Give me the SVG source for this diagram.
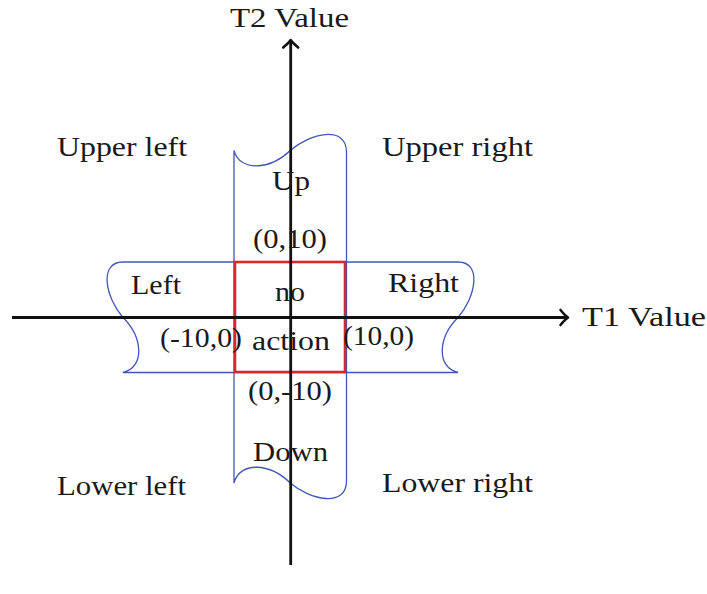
<svg xmlns="http://www.w3.org/2000/svg" width="707" height="594" viewBox="0 0 707 594">
<style>
  .band { fill: none; stroke: #4256b6; stroke-width: 1.3; }
  .box { fill: none; stroke: #d8282c; stroke-width: 2.6; }
  .axis { fill: none; stroke: #111; stroke-width: 2.8; }
  text { font-family: "Liberation Serif", "Times New Roman", serif; font-size: 27px; fill: #1a1a1a; }
</style>
<defs>
  <marker id="arr" markerUnits="userSpaceOnUse" viewBox="-10 -10 14 20" refX="0" refY="0" markerWidth="14" markerHeight="20" orient="auto" overflow="visible">
    <path d="M-7.5,-7.5 Q-3,-2 0,0 Q-3,2 -7.5,7.5" fill="none" stroke="#111" stroke-width="2.6" stroke-linecap="round" stroke-linejoin="round"/>
  </marker>
</defs>
<rect x="0" y="0" width="707" height="594" fill="#ffffff"/>
<g id="band-vertical">
  <path class="band" d="M234,150.5 C240,172 270,170 290.25,150.5 C310,133 346.5,125 346.5,152 L346.5,481 C346.5,508 310,500 290.25,483 C270,463 240,461 234,483 Z"/>
</g>
<g id="band-horizontal">
  <path class="band" d="M123,262 L458,262 C483,262 475,298.5 458,317.5 C438,337.5 436,367 458,372.5 L123,372.5 C145,367 143,337.5 123,317.5 C106,298.5 98,262 123,262 Z"/>
</g>
<g id="no-action-box">
  <rect class="box" x="235" y="262" width="110" height="110"/>
</g>
<g id="connectors">
  <line class="axis" x1="12" y1="317.5" x2="568" y2="317.5" marker-end="url(#arr)"/>
  <line class="axis" x1="290.7" y1="565" x2="290.7" y2="40" marker-end="url(#arr)"/>
</g>
<g id="labels">
  <text x="230" y="27" textLength="119" lengthAdjust="spacingAndGlyphs">T2 Value</text>
  <text x="582" y="326" textLength="124" lengthAdjust="spacingAndGlyphs">T1 Value</text>
  <text x="57" y="156" textLength="130" lengthAdjust="spacingAndGlyphs">Upper left</text>
  <text x="382" y="156" textLength="151" lengthAdjust="spacingAndGlyphs">Upper right</text>
  <text x="272" y="190" textLength="38" lengthAdjust="spacingAndGlyphs">Up</text>
  <text x="253" y="248" textLength="74" lengthAdjust="spacingAndGlyphs">(0,10)</text>
  <text x="131" y="294" textLength="50" lengthAdjust="spacingAndGlyphs">Left</text>
  <text x="275" y="301" textLength="30" lengthAdjust="spacingAndGlyphs">no</text>
  <text x="388" y="292" textLength="71" lengthAdjust="spacingAndGlyphs">Right</text>
  <text x="160" y="347" textLength="82" lengthAdjust="spacingAndGlyphs">(-10,0)</text>
  <text x="252" y="350" textLength="78" lengthAdjust="spacingAndGlyphs">action</text>
  <text x="343" y="345" textLength="71" lengthAdjust="spacingAndGlyphs">(10,0)</text>
  <text x="248" y="400" textLength="84" lengthAdjust="spacingAndGlyphs">(0,-10)</text>
  <text x="253" y="461" textLength="75" lengthAdjust="spacingAndGlyphs">Down</text>
  <text x="57" y="495" textLength="129" lengthAdjust="spacingAndGlyphs">Lower left</text>
  <text x="382" y="492" textLength="151" lengthAdjust="spacingAndGlyphs">Lower right</text>
</g>
</svg>
